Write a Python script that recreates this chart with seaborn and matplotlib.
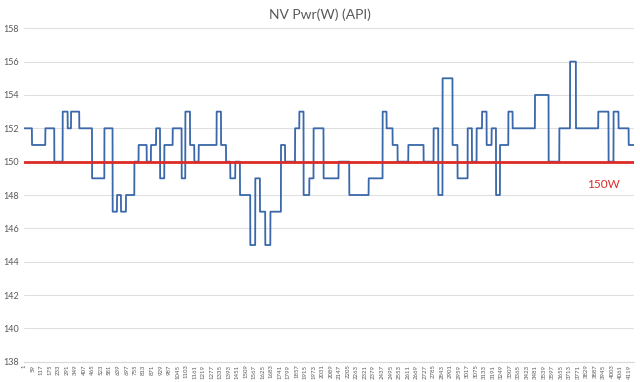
import numpy as np
import pandas as pd
import matplotlib
matplotlib.use("Agg")
import matplotlib.pyplot as plt
import seaborn as sns

# ---- data ----
title = "NV Pwr(W) (API)"
n_points = 4152
# sample index where each constant level starts, and the level (W)
step_starts = [1, 53, 144, 205, 262, 296, 319, 375, 462, 546, 602, 632, 659, 693,
               750, 779, 834, 863, 898, 925, 954, 1011, 1072, 1097, 1129, 1158,
               1188, 1310, 1340, 1374, 1403, 1437, 1469, 1539, 1573, 1605, 1641,
               1676, 1748, 1776, 1844, 1873, 1902, 1941, 1970, 2038, 2140, 2213,
               2345, 2440, 2467, 2508, 2542, 2615, 2719, 2787, 2819, 2848, 2916,
               2950, 3019, 3048, 3080, 3117, 3148, 3182, 3212, 3239, 3296, 3325,
               3477, 3570, 3643, 3716, 3756, 3908, 3978, 4012, 4046, 4115]
step_levels = [152, 151, 152, 150, 153, 152, 153, 152, 149, 152, 147, 148, 147, 148,
               150, 151, 150, 151, 152, 149, 151, 152, 149, 153, 151, 150,
               151, 153, 151, 150, 149, 150, 148, 145, 149, 147, 145,
               147, 151, 150, 152, 153, 148, 149, 152, 149, 150, 148,
               149, 153, 152, 151, 150, 151, 150, 152, 148, 155, 151,
               149, 152, 150, 152, 153, 151, 152, 148, 151, 153, 152,
               154, 150, 152, 156, 152, 153, 150, 153, 152, 151]
threshold = 150
threshold_label = "150W"
y_ticks = [138, 140, 142, 144, 146, 148, 150, 152, 154, 156, 158]
x_tick_labels = [1, 59, 117, 175, 233, 291, 349, 407, 465, 523, 581, 639, 697, 755,
                 813, 871, 929, 987, 1045, 1103, 1161, 1219, 1277, 1335, 1393, 1451,
                 1509, 1567, 1625, 1683, 1741, 1799, 1857, 1915, 1973, 2031, 2089,
                 2147, 2205, 2263, 2321, 2379, 2437, 2495, 2553, 2611, 2669, 2727,
                 2785, 2843, 2901, 2959, 3017, 3075, 3133, 3191, 3249, 3307, 3365,
                 3423, 3481, 3539, 3597, 3655, 3713, 3771, 3829, 3887, 3945, 4003,
                 4061, 4119]

# expand runs into samples
run_lengths = np.diff(step_starts + [n_points + 1])
power = np.repeat(step_levels, run_lengths)
df = pd.DataFrame({"idx": np.arange(1, n_points + 1), "power": power})

# ---- plot ----
sns.set_theme(style="white")
plt.rcParams["font.family"] = ["Lato", "DejaVu Sans"]

fig = plt.figure(figsize=(6.4, 3.82), dpi=100)
ax = fig.add_axes([0.038, 0.053, 0.953, 0.873])

sns.lineplot(data=df, x="idx", y="power", ax=ax, color="#3a68aa",
             linewidth=1.3, estimator=None, zorder=3)
ax.axhline(threshold, color="#dc2b26", linewidth=2.0, zorder=4)
ax.text(0.922, 0.533, threshold_label, transform=ax.transAxes, color="#dc2b26",
        fontsize=8.5, ha="left", va="center")

ax.set_xlim(0.5, n_points + 0.5)
ax.set_ylim(138, 158)
ax.set_yticks(y_ticks)
ax.set_yticklabels([str(v) for v in y_ticks], fontsize=6.5, color="#595959")
ax.set_xticks(x_tick_labels)
ax.set_xticklabels([str(v) for v in x_tick_labels], rotation=90, fontsize=4.3,
                   color="#595959")
ax.tick_params(axis="y", length=0, pad=4)
ax.tick_params(axis="x", length=0, pad=2)
ax.grid(axis="y", color="#e0e0e0", linewidth=0.8)
ax.set_axisbelow(True)
for s in ["top", "right", "left"]:
    ax.spines[s].set_visible(False)
ax.spines["bottom"].set_color("#d9d9d9")
ax.spines["bottom"].set_linewidth(0.8)
ax.set_xlabel("")
ax.set_ylabel("")

fig.text(0.5, 0.962, title, ha="center", va="center", fontsize=10, color="#595959")

fig.savefig("out.png", dpi=100, facecolor="white")
